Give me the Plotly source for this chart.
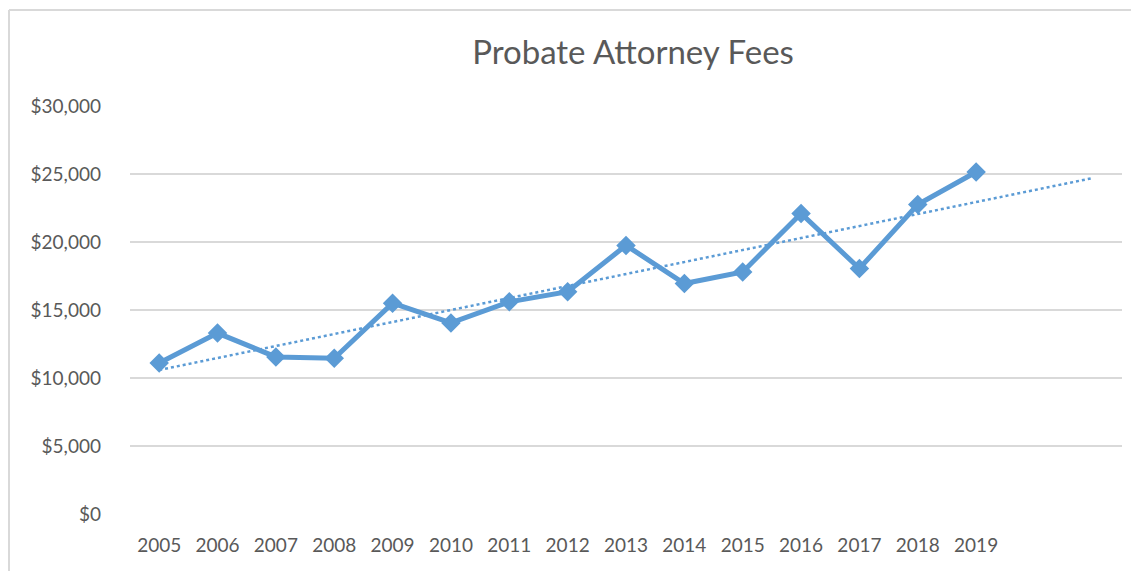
import numpy as np
import plotly.graph_objects as go

years = ["2005", "2006", "2007", "2008", "2009", "2010", "2011", "2012",
         "2013", "2014", "2015", "2016", "2017", "2018", "2019"]
fees = [11100, 13300, 11550, 11450, 15500, 14050, 15600, 16350,
        19750, 16950, 17800, 22100, 18050, 22750, 25150]
y_ticks = [0, 5000, 10000, 15000, 20000, 25000, 30000]
y_tick_labels = ["$0", "$5,000", "$10,000", "$15,000", "$20,000", "$25,000", "$30,000"]
forecast_periods = 2

x_idx = np.arange(len(years))
slope, intercept = np.polyfit(x_idx, fees, 1)
trend_x = np.array([0, len(years) - 1 + forecast_periods])
trend_y = slope * trend_x + intercept

BLUE = "#5B9BD5"
GREY_TXT = "#595959"
GRID = "#D9D9D9"

# page has an 8px body margin; figure origin sits at (8, 8)
OFF = 8
W, H = 1139 - OFF, 571 - OFF
L, R, T, B = 130 - OFF, 17, 106 - OFF, 57
pw, ph = W - L - R, H - T - B

fig = go.Figure()
fig.add_trace(go.Scatter(
    x=trend_x, y=trend_y, mode="lines",
    line=dict(color=BLUE, width=2.5, dash="dot"),
    showlegend=False, hoverinfo="skip"))
fig.add_trace(go.Scatter(
    x=x_idx, y=fees, mode="lines+markers",
    line=dict(color=BLUE, width=5),
    marker=dict(symbol="diamond", size=15, color=BLUE),
    showlegend=False))

fig.update_layout(
    width=W, height=H,
    margin=dict(l=L, r=R, t=T, b=B),
    paper_bgcolor="white", plot_bgcolor="white",
    font=dict(family="Lato, Liberation Sans, sans-serif", color=GREY_TXT, size=19),
    title=dict(text="Probate Attorney Fees", x=(633 - OFF) / W, xanchor="center",
               y=1 - (52 - OFF) / H, yanchor="middle",
               font=dict(size=33, color=GREY_TXT)),
    xaxis=dict(range=[-0.5, len(years) - 1 + forecast_periods + 0.5],
               tickmode="array", tickvals=list(x_idx), ticktext=years,
               showgrid=False, zeroline=False, showline=False, ticks="",
               ticklabelstandoff=18, tickfont=dict(size=19, color=GREY_TXT)),
    yaxis=dict(range=[0, 30000], tickmode="array", tickvals=y_ticks,
               ticktext=y_tick_labels, showgrid=True, gridcolor=GRID,
               gridwidth=2, zeroline=False, showline=False, ticks="",
               ticklabelstandoff=28, tickfont=dict(size=19, color=GREY_TXT)),
    shapes=[
        dict(type="line", xref="paper", yref="paper",
             x0=(1 - L) / pw, x1=(W + 20 - L) / pw,
             y0=(H - B - 2) / ph, y1=(H - B - 2) / ph,
             line=dict(color=GRID, width=2)),
        dict(type="line", xref="paper", yref="paper",
             x0=(1 - L) / pw, x1=(1 - L) / pw,
             y0=(H - B - 2) / ph, y1=-(B + 20) / ph,
             line=dict(color=GRID, width=2)),
    ],
)

fig.write_html("out.html")
